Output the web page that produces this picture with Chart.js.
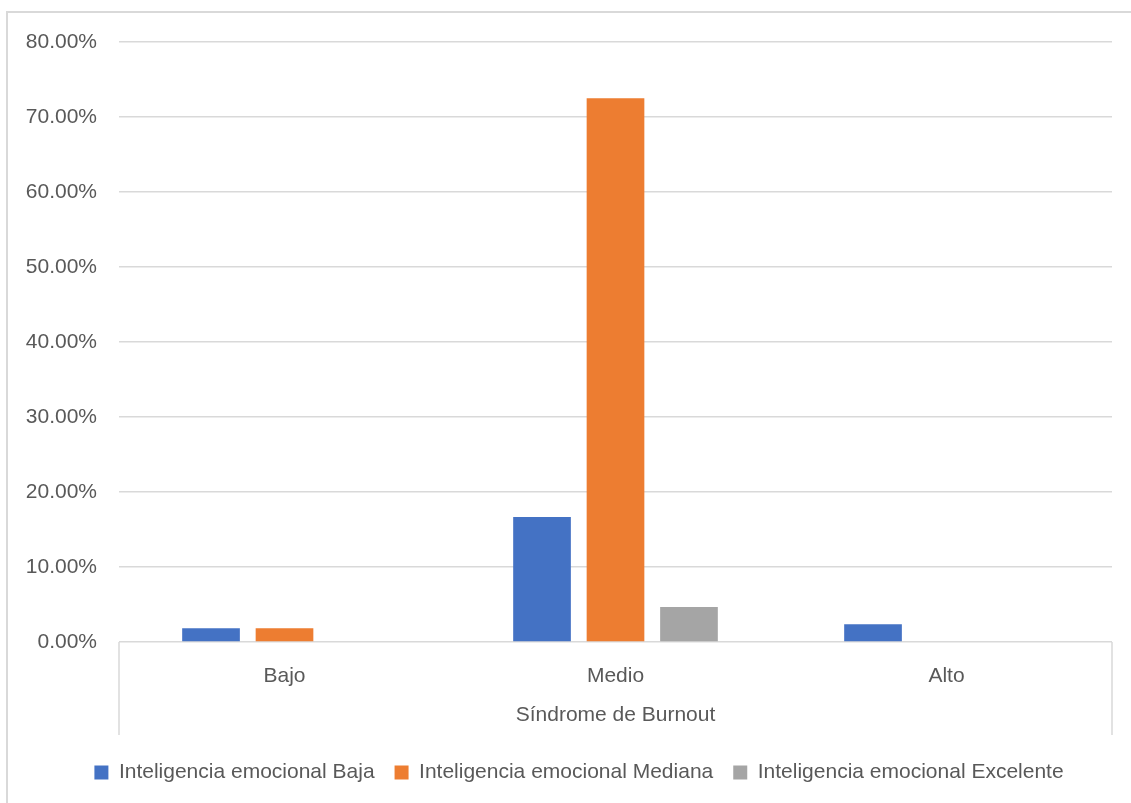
<!DOCTYPE html>
<html>
<head>
<meta charset="utf-8">
<script src="https://cdn.jsdelivr.net/npm/chart.js@4"></script>
<style>
  html, body { margin: 0; padding: 0; background: #fff; overflow: hidden; }
  #wrap { width: 1131px; height: 803px; position: relative; }
</style>
</head>
<body>
<div id="wrap"><canvas id="burnoutChart" width="1131" height="803"></canvas></div>
<script>
const categories = ['Bajo', 'Medio', 'Alto'];
const seriesNames = [
  'Inteligencia emocional Baja',
  'Inteligencia emocional Mediana',
  'Inteligencia emocional Excelente'
];
const bajaValues = [1.83, 16.67, 2.36];
const medianaValues = [1.83, 72.5, 0];
const excelenteValues = [0, 4.67, 0];
const yTicks = [0, 10, 20, 30, 40, 50, 60, 70, 80];
const axisTitle = 'Síndrome de Burnout';

const seriesColors = ['#4472C4', '#ED7D31', '#A5A5A5'];
const textColor = '#595959';
const lineColor = '#d9d9d9';
const fontFamily = "'Liberation Sans', Arial, sans-serif";
const fontSize = 21;

// frame around the chart plus the bracket under the category axis
const framePlugin = {
  id: 'frame',
  afterLayout(chart) {
    chart.legend.left += 23;
    chart.legend.right += 23;
  },
  afterDraw(chart) {
    const ctx = chart.ctx;
    const area = chart.chartArea;
    ctx.save();
    ctx.strokeStyle = lineColor;
    ctx.lineWidth = 2;
    ctx.beginPath();
    ctx.moveTo(7, 803);
    ctx.lineTo(7, 12);
    ctx.lineTo(1131, 12);
    ctx.stroke();
    ctx.lineWidth = 1.5;
    ctx.beginPath();
    ctx.moveTo(area.left, area.bottom);
    ctx.lineTo(area.left, 735);
    ctx.moveTo(area.right, area.bottom);
    ctx.lineTo(area.right, 735);
    ctx.stroke();
    ctx.restore();
  }
};

const ctx = document.getElementById('burnoutChart').getContext('2d');
new Chart(ctx, {
  type: 'bar',
  data: {
    labels: categories,
    datasets: [
      { label: seriesNames[0], data: bajaValues, backgroundColor: seriesColors[0] },
      { label: seriesNames[1], data: medianaValues, backgroundColor: seriesColors[1] },
      { label: seriesNames[2], data: excelenteValues, backgroundColor: seriesColors[2] }
    ]
  },
  options: {
    responsive: false,
    animation: false,
    devicePixelRatio: 1,
    layout: { padding: { left: 0, right: 19, top: 42, bottom: 10 } },
    datasets: {
      bar: { categoryPercentage: 0.666, barPercentage: 0.785 }
    },
    plugins: {
      legend: {
        position: 'bottom',
        labels: {
          boxWidth: 14,
          boxHeight: 14,
          padding: 20,
          color: textColor,
          font: { family: fontFamily, size: fontSize }
        }
      },
      tooltip: { enabled: false }
    },
    scales: {
      x: {
        grid: { display: false },
        border: { display: false },
        ticks: {
          color: textColor,
          padding: 14,
          font: { family: fontFamily, size: fontSize }
        },
        title: {
          display: true,
          text: axisTitle,
          color: textColor,
          padding: { top: 0, bottom: 14 },
          font: { family: fontFamily, size: fontSize }
        },
        afterFit(scale) { scale.height = 100; }
      },
      y: {
        min: yTicks[0],
        max: yTicks[yTicks.length - 1],
        afterBuildTicks(scale) { scale.ticks = yTicks.map(v => ({ value: v })); },
        grid: { color: lineColor, lineWidth: 1.5, drawTicks: false },
        border: { display: false },
        ticks: {
          color: textColor,
          padding: 22,
          font: { family: fontFamily, size: fontSize },
          callback: v => v.toFixed(2) + '%'
        },
        afterFit(scale) { scale.width = 119; }
      }
    }
  },
  plugins: [framePlugin]
});
</script>
</body>
</html>
